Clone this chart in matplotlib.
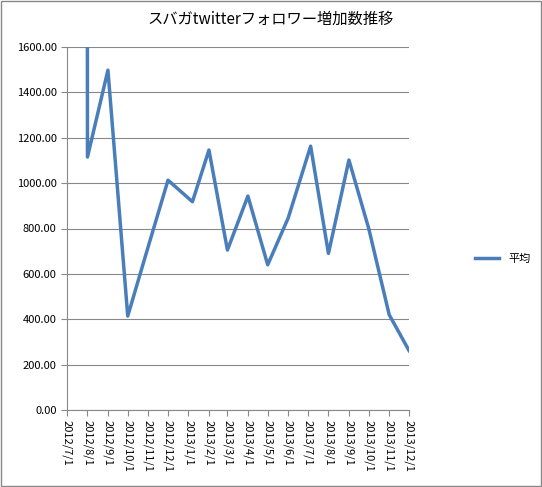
import matplotlib
matplotlib.use("Agg")
import matplotlib.pyplot as plt
import matplotlib.dates as mdates
import datetime as dt

plt.rcParams['font.family'] = ['Noto Sans CJK JP', 'DejaVu Sans']

dates = ["2012-07-31", "2012-08-01", "2012-09-01", "2012-10-01", "2012-11-01", "2012-12-01",
         "2013-01-07", "2013-02-01", "2013-03-01", "2013-04-01", "2013-05-01", "2013-06-01",
         "2013-07-05", "2013-08-01", "2013-09-01", "2013-10-01", "2013-11-01", "2013-12-01"]
values = [5000, 1115, 1498, 414, 720, 1013, 918, 1146, 705, 943, 640, 846,
          1163, 690, 1102, 800, 420, 262]
tick_labels = ["2012/7/1", "2012/8/1", "2012/9/1", "2012/10/1", "2012/11/1", "2012/12/1",
               "2013/1/1", "2013/2/1", "2013/3/1", "2013/4/1", "2013/5/1", "2013/6/1",
               "2013/7/1", "2013/8/1", "2013/9/1", "2013/10/1", "2013/11/1", "2013/12/1"]
yticks = [0, 200, 400, 600, 800, 1000, 1200, 1400, 1600]

x = [dt.datetime.strptime(d, "%Y-%m-%d") for d in dates]
tx = [dt.datetime.strptime(t, "%Y/%m/%d") for t in tick_labels]

fig = plt.figure(figsize=(5.42, 4.87), dpi=100)
fig.patches.append(plt.Rectangle((0.002, 0.002), 0.996, 0.996, transform=fig.transFigure,
                                 fill=False, edgecolor="#888888", linewidth=1))
ax = fig.add_axes([67/542, 1-410/487, (409-67)/542, (410-47)/487])
ax.plot(x, values, color="#4A7EBB", linewidth=2.5, label="平均")
ax.set_ylim(0, 1600)
ax.set_xlim(tx[0], tx[-1])
ax.set_yticks(yticks)
ax.set_yticklabels([f"{v:.2f}" for v in yticks], fontsize=8)
ax.set_xticks(tx)
ax.set_xticklabels(tick_labels, rotation=-90, fontsize=8)
ax.yaxis.grid(True, color="#888888", linewidth=0.8)
ax.set_axisbelow(True)
for s in ["top", "right"]:
    ax.spines[s].set_visible(False)
for s in ["left", "bottom"]:
    ax.spines[s].set_color("#888888")
ax.tick_params(axis="x", length=4, color="#888888")
ax.tick_params(axis="y", length=4, color="#888888")
fig.text(0.5, 1-19/487, "スバガtwitterフォロワー増加数推移", ha="center", va="center", fontsize=11)
fig.legend(loc="center left", bbox_to_anchor=(465/542, 1-259/487), frameon=False, fontsize=8,
           handlelength=2.2)
fig.savefig("out.png", dpi=100)
